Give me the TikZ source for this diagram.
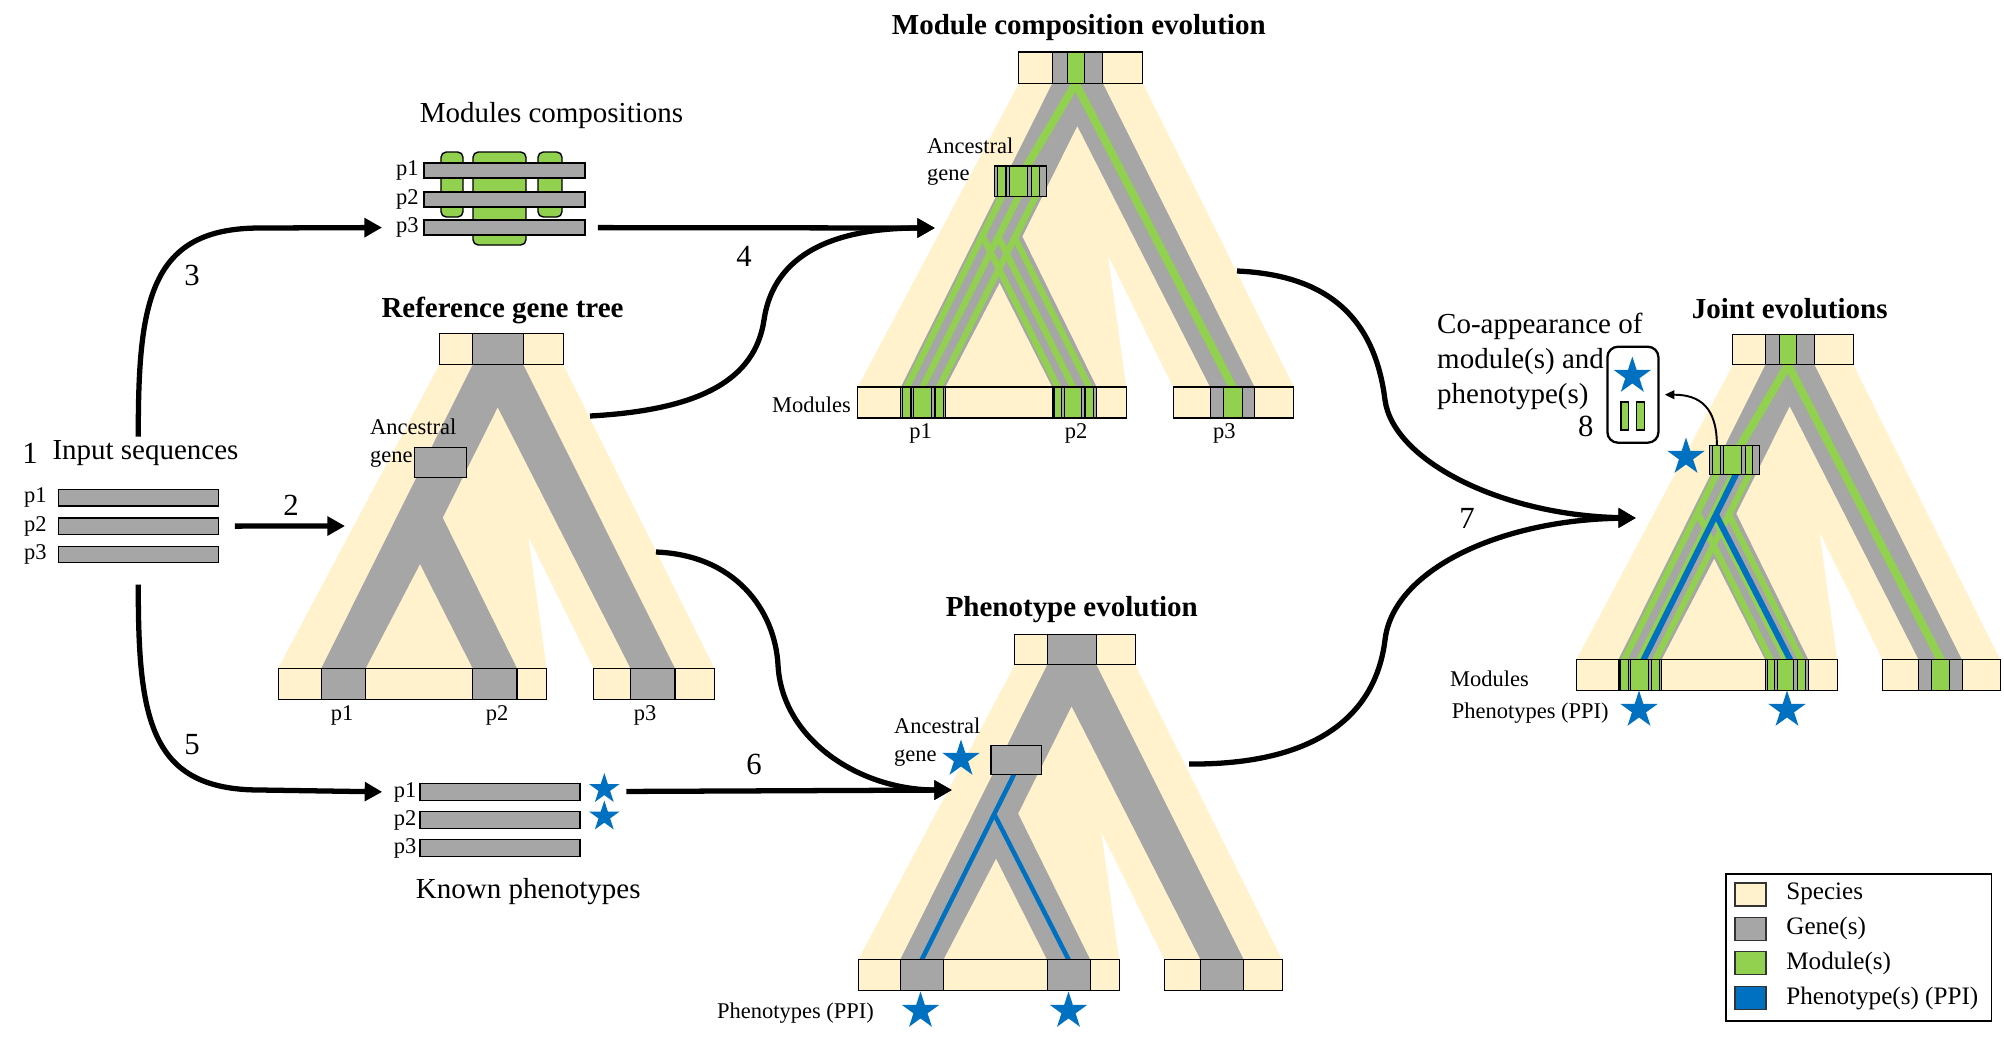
\documentclass[tikz,border=0pt]{standalone}
\usepackage{fontspec}
\setmainfont{Liberation Serif}
\usetikzlibrary{arrows.meta,shapes.geometric}

\definecolor{speciescol}{HTML}{FFF2CC}
\definecolor{genecol}{HTML}{A6A6A6}
\definecolor{modcol}{HTML}{92D050}
\definecolor{ppicol}{HTML}{0070C0}

\newcommand{\figlab}{\fontsize{16.5}{19.9}\selectfont}
\newcommand{\figsmall}{\fontsize{12.8}{15.8}\selectfont}
\newcommand{\fignum}{\fontsize{17.5}{20}\selectfont}
\newcommand{\figleg}{\fontsize{14.3}{17}\selectfont}

\tikzset{
  labtext/.style={font=\figlab},
  titletext/.style={font=\figlab\bfseries},
  smalltext/.style={font=\figsmall, inner sep=1pt},
  numtext/.style={font=\fignum},
  legtext/.style={font=\figleg, inner sep=0pt},
  cell/.style={draw=black, line width=0.6pt},
  seqbar/.style={draw=black, fill=genecol, line width=0.8pt, inner sep=0pt, minimum width=3.2cm},
  modblob/.style={draw=black, fill=modcol, line width=0.8pt, rounded corners=3pt},
  modline/.style={modcol, line width=3.6pt},
  topmodline/.style={modcol, line width=4.6pt},
  ppiline/.style={ppicol, line width=2.6pt},
  ppistar/.style={star, star points=5, star point ratio=2.618, fill=ppicol, draw=none, inner sep=0pt, minimum size=0.78cm},
  flow/.style={-{Triangle[length=10pt,width=10.5pt]}, line width=3pt},
  thinflow/.style={-{Triangle[length=5.5pt,width=5pt]}, line width=1.1pt},
  swatch/.style={draw=black!80, line width=0.8pt, minimum width=0.62cm, minimum height=0.46cm, inner sep=0pt}
}

% species tree with the gene tree inside (origin: top left of the top bar)
\newcommand{\treeshape}{%
  \fill[speciescol] (0,31.5) -- (124,31.5) -- (275,335) -- (154.2,335) -- (89,203.4) -- (107.3,335) -- (-161.2,335) -- cycle;
  \fill[genecol] (33.3,31.5) -- (84,31.5) -- (235.7,335) -- (191.2,335) -- (58.4,74) -- (3.4,184.4) -- (77.7,335) -- (33.3,335) -- (-19.3,230.7) -- (-73.6,335) -- (-118,335) -- cycle;
}
% top and bottom bars
\newcommand{\treebars}{%
  \draw[cell, fill=speciescol] (0,0) rectangle (124,31.5);
  \draw[cell, fill=genecol] (33.3,0) rectangle (84,31.5);
  \draw[cell, fill=speciescol] (-161.2,335) rectangle (107.3,366);
  \draw[cell, fill=speciescol] (154.2,335) rectangle (275,366);
  \draw[cell, fill=genecol] (-118,335) rectangle (-73.6,366);
  \draw[cell, fill=genecol] (33.3,335) rectangle (77.7,366);
  \draw[cell, fill=genecol] (191.2,335) rectangle (235.7,366);
}
\newcommand{\ancbox}{\draw[cell, fill=genecol] (-24.5,114) rectangle (27.4,144.5);}
% module cells
\newcommand{\modcells}{%
  \draw[cell, fill=modcol] (48.2,0) rectangle (65.4,31.5);
  \foreach \a/\b in {-116.2/-107.9, -105.6/-87.2, -83.9/-75.6, 35.1/42.8, 45.4/62.8, 66.1/74.4, 204.3/223.2}
    \draw[cell, fill=modcol] (\a,335) rectangle (\b,366);
  \foreach \a/\b in {-21.2/-12.9, -9.6/8.8, 12.8/20.4}
    \draw[cell, fill=modcol] (\a,114) rectangle (\b,144.5);
}
% module lines along the branches
\newcommand{\modlines}{%
  \draw[topmodline] (60.6,25) -- (4.4,120);
  \draw[topmodline] (53.4,25) -- (216.9,341);
  \draw[modline] (-14.8,140) -- (-115,341);
  \draw[modline] (1.9,140) -- (-99.4,341);
  \draw[modline] (18.9,140) -- (-82.8,341);
  \draw[modline] (-14.8,140) -- (-36.5,183.6) -- (41.9,341);
  \draw[modline] (1.9,140) -- (-20.6,185.1) -- (57.1,341);
  \draw[modline] (18.9,140) -- (-4,185.9) -- (73.3,341);
}

\begin{document}
\begin{tikzpicture}[x=0.02cm, y=-0.02cm]
\useasboundingbox (0,0) rectangle (2004,1039);

% Input sequences
\node[numtext] (n1) at (30,453) {1};
\node[labtext, inner sep=2pt] (inlabel) at (145.5,453) {Input sequences};
\foreach \i/\y in {1/497.7, 2/526.2, 3/554.5} {
  \node[seqbar, minimum height=0.33cm] (in\i) at (138.3,\y) {};
  \node[smalltext, anchor=east] (inlab\i) at ([xshift=-5pt]in\i.west) {p\i};
}

% Modules compositions
\node[labtext] (mctitle) at (551.5,116) {Modules compositions};
\draw[modblob] (441,152) rectangle (463,217);
\draw[modblob] (473,152) rectangle (526,245);
\draw[modblob] (538,152) rectangle (562,217);
\foreach \i/\y in {1/170.5, 2/199.5, 3/227.5} {
  \node[seqbar, minimum width=3.22cm, minimum height=0.3cm] (mc\i) at (504.5,\y) {};
  \node[smalltext, anchor=east] (mclab\i) at ([xshift=-1.5pt]mc\i.west) {p\i};
}

% Known phenotypes
\foreach \i/\y in {1/792, 2/820, 3/848} {
  \node[seqbar, minimum height=0.34cm] (kp\i) at (500,\y) {};
  \node[smalltext, anchor=east] (kplab\i) at ([xshift=-0.5pt]kp\i.west) {p\i};
}
\node[ppistar, minimum size=0.64cm] (kpstar1) at (604.3,789) {};
\node[ppistar, minimum size=0.64cm] (kpstar2) at (604.3,816.5) {};
\node[labtext] (kptitle) at (528.3,891.7) {Known phenotypes};

% Reference gene tree
\node[titletext] (reftitle) at (502.5,310) {Reference gene tree};
\begin{scope}[shift={(439.3,333.3)}]
  \treeshape
  \treebars
  \ancbox
\end{scope}
\node[smalltext, align=left, anchor=west] (refanc) at (368,443) {Ancestral\\gene};
\node[smalltext] (refp1) at (342,715) {p1};
\node[smalltext] (refp2) at (497,715) {p2};
\node[smalltext] (refp3) at (645,715) {p3};

% Module composition evolution
\node[titletext] (modtitle) at (1078.8,28) {Module composition evolution};
\begin{scope}[shift={(1018.9,52)}]
  \treeshape
  \modlines
  \treebars
  \ancbox
  \modcells
\end{scope}
\node[smalltext, align=left, anchor=west] (modanc) at (925,161.5) {Ancestral\\gene};
\node[smalltext, anchor=east] (modmod) at (853,405) {Modules};
\node[smalltext] (modp1) at (920.7,433) {p1};
\node[smalltext] (modp2) at (1076,433) {p2};
\node[smalltext] (modp3) at (1224.3,433) {p3};

% Phenotype evolution
\node[titletext] (phetitle) at (1071.8,610) {Phenotype evolution};
\begin{scope}[shift={(1014.8,634.3)}, scale=0.972]
  \treeshape
  \draw[ppiline] (1.2,140) -- (-98.8,341);
  \draw[ppiline] (-21.2,185) -- (58.6,341);
  \treebars
  \ancbox
\end{scope}
\node[smalltext, align=left, anchor=west] (pheanc) at (892,742.4) {Ancestral\\gene};
\node[ppistar] (phestar0) at (961,759) {};
\node[ppistar] (phestar1) at (920.5,1011) {};
\node[ppistar] (phestar2) at (1068.5,1011) {};
\node[smalltext, anchor=east] (phephen) at (876,1012.7) {Phenotypes (PPI)};

% Joint evolutions
\node[titletext] (jointtitle) at (1789.7,308.3) {Joint evolutions};
\begin{scope}[shift={(1732.9,334.3)}, scale=0.972]
  \treeshape
  \modlines
  \draw[ppiline, line width=3.4pt] (5.2,140) -- (-95,341);
  \draw[ppiline, line width=3.4pt] (-17.45,185.5) -- (62.1,341);
  \treebars
  \ancbox
  \modcells
  \coordinate (jointanc) at (-16.5,114);
\end{scope}
\node[ppistar] (jointstar0) at (1686,457) {};
\node[ppistar] (jointstar1) at (1639,710) {};
\node[ppistar] (jointstar2) at (1787,710) {};
\node[smalltext, anchor=west] (jointmod) at (1448,678.3) {Modules};
\node[smalltext, anchor=west] (jointphen) at (1449.8,712.7) {Phenotypes (PPI)};

% Co-appearance
\node[labtext, align=left, anchor=west] (coapp) at (1431,361.7) {Co-appearance of\\module(s) and\\phenotype(s)};
\node[draw, line width=1.3pt, rounded corners=6pt, minimum width=1.02cm, minimum height=1.92cm, inner sep=0pt] (copbox) at (1632.9,394.7) {};
\node[ppistar] (copstar) at (1632.3,376) {};
\draw[cell, fill=modcol] (1621,402) rectangle (1628.6,430);
\draw[cell, fill=modcol] (1636.8,402) rectangle (1644.6,430);
\node[numtext] (n8) at (1585.7,426.7) {8};
\draw[thinflow, shorten >=3pt] (jointanc) .. controls +(0,-38) and +(40,0) .. (copbox.east);

% Arrow ends at the trees
\coordinate (refin) at (345,526);
\coordinate (refout1) at (590,416);
\coordinate (refout2) at (656,552);
\coordinate (modin) at (935,228);
\coordinate (modout) at (1237,271);
\coordinate (phein) at (952,790);
\coordinate (pheout) at (1189,764);
\coordinate (jointin) at (1636,518);

% Steps 2 to 7
\draw[flow, shorten <=9pt] (in2) -- (refin);
\draw[flow, shorten >=6.8pt] (inlabel.north -| in1.north) .. controls (138,300) and (150,228) .. (260,228) -- (mclab3.west);
\draw[flow, shorten >=5.4pt] ([yshift=-12pt]in3.south) .. controls (138,720) and (150,790) .. (260,790) -- (kplab1.west);
\draw[flow, shorten <=7pt] (mc3) -- (modin);
\draw[flow] (refout1) .. controls (700,410) and (755,380) .. (764,320) .. controls (775,245) and (850,228) .. (modin);
\draw[flow, shorten <=26pt] (kp1) -- (phein);
\draw[flow] (refout2) .. controls (735,555) and (775,610) .. (778,665) .. controls (782,740) and (860,790) .. (phein);
\draw[flow] (modout) .. controls (1330,275) and (1375,320) .. (1385,400) .. controls (1393,460) and (1500,515) .. (jointin);
\draw[flow] (pheout) .. controls (1310,765) and (1375,720) .. (1385,640) .. controls (1393,570) and (1500,520) .. (jointin);

% Step numbers
\node[numtext] (n2) at (291,505) {2};
\node[numtext] (n3) at (192,275) {3};
\node[numtext] (n4) at (744,256) {4};
\node[numtext] (n5) at (192,745) {5};
\node[numtext] (n6) at (754,764) {6};
\node[numtext] (n7) at (1467,518) {7};

% Legend
\node[draw, fill=white, line width=0.9pt, minimum width=5.32cm, minimum height=2.94cm, inner sep=0pt] (legend) at (1858.7,947.5) {};
\foreach \y/\col/\txt [count=\k] in {894.3/speciescol/Species, 928.7/genecol/Gene(s), 963/modcol/Module(s), 998/ppicol/Phenotype(s) (PPI)} {
  \node[swatch, fill=\col] (legsw\k) at (1750.5,\y) {};
  \node[legtext, anchor=west] (legtx\k) at (1786,\y) {\txt};
}
\end{tikzpicture}
\end{document}
